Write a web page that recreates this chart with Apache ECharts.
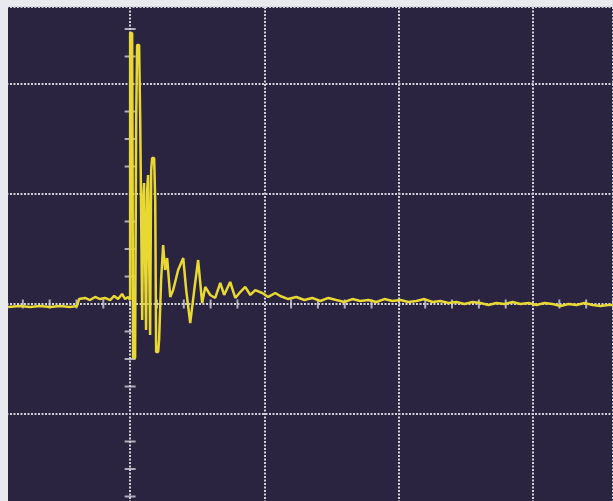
<!DOCTYPE html>
<html>
<head>
<meta charset="utf-8">
<script src="https://cdn.jsdelivr.net/npm/echarts@6/dist/echarts.min.js"></script>
<style>html,body{margin:0;padding:0;background:#e8eaee;overflow:hidden;}#c{position:absolute;left:-4px;top:0;width:617px;height:524px;}</style>
</head>
<body>
<div id="c"></div>
<script>
// time in divisions, amplitude in divisions
var timeDiv = [-0.910,-0.821,-0.746,-0.672,-0.597,-0.522,-0.448,-0.396,-0.381,-0.336,-0.299,-0.261,-0.224,-0.187,-0.149,-0.119,-0.090,-0.060,-0.037,-0.015,
0.000,0.000,0.015,0.022,0.037,0.045,0.052,0.067,0.075,0.082,0.090,0.097,0.104,0.112,0.119,0.127,0.134,0.142,0.149,0.157,0.164,0.179,0.187,0.194,0.209,0.216,0.231,
0.246,0.261,0.276,0.299,0.321,0.358,0.396,0.418,0.448,0.478,0.507,0.537,0.560,0.597,0.634,0.672,0.701,0.746,0.784,0.821,0.858,0.896,0.933,0.985,1.030,1.082,
1.119,1.179,1.239,1.299,1.358,1.418,1.478,1.537,1.597,1.657,1.716,1.776,1.836,1.896,1.955,2.015,2.075,2.134,2.194,2.254,2.313,2.373,2.433,2.493,2.552,2.612,2.672,2.731,2.791,2.851,2.910,2.970,3.030,3.090,3.149,3.209,3.269,3.328,3.388,3.448,3.507,3.567,3.604];
var ampDiv = [-0.027,-0.018,-0.027,-0.018,-0.027,-0.018,-0.027,-0.018,0.045,0.055,0.036,0.064,0.045,0.055,0.036,0.073,0.045,0.091,0.045,0.064,
0.036,2.464,2.464,-0.491,-0.491,1.673,2.355,2.355,1.691,1.691,-0.145,0.945,1.100,1.100,-0.236,1.036,1.173,1.173,-0.282,1.218,1.327,1.327,0.945,-0.436,-0.436,-0.327,0.218,
0.536,0.309,0.418,0.064,0.127,0.309,0.418,0.127,-0.173,0.127,0.400,0.009,0.155,0.082,0.055,0.191,0.082,0.200,0.055,0.109,0.155,0.082,0.127,0.100,0.064,0.100,
0.073,0.045,0.064,0.036,0.055,0.027,0.055,0.036,0.018,0.045,0.027,0.036,0.018,0.045,0.027,0.036,0.018,0.027,0.045,0.018,0.027,0.009,0.018,0.000,0.018,0.009,-0.009,0.009,0.000,0.018,0.000,0.009,-0.009,0.009,0.000,-0.018,0.000,-0.009,0.009,-0.009,-0.018,-0.009,-0.009];
var xTicks = [-1,-0.8,-0.6,-0.4,-0.2,0.2,0.4,0.6,0.8,1.2,1.4,1.6,1.8,2.2,2.4,2.6,2.8,3.2,3.4,3.6];
var yTicks = [-1.75,-1.5,-1.25,-0.75,-0.5,-0.25,0.25,0.5,0.75,1.25,1.5,1.75,2.25,2.5];

var trace = timeDiv.map(function(t,i){return [t, ampDiv[i]];});
var xt = xTicks.map(function(v){return [v,0];});
var yt = yTicks.map(function(v){return [0,v];});

var chart = echarts.init(document.getElementById('c'), null, {renderer:'canvas'});
var gridLine = {show:true, lineStyle:{color:'#cfd0d8', width:2, type:[2,1.5]}};
chart.setOption({
  backgroundColor:'#e8eaee',
  animation:false,
  grid:{left:0, right:0, top:7, bottom:0, show:true, backgroundColor:'#2a2440', borderWidth:0},
  xAxis:{type:'value', min:-1, max:3.6, interval:1, axisLine:{show:false}, axisTick:{show:false}, axisLabel:{show:false}, splitLine:gridLine},
  yAxis:{type:'value', min:-2, max:2.7, interval:1, axisLine:{show:false}, axisTick:{show:false}, axisLabel:{show:false}, splitLine:gridLine},
  graphic:[{type:'rect', shape:{x:0,y:0,width:12,height:524}, style:{fill:'#e8eaee'}, z:100}],
  series:[
    {type:'scatter', data:xt, symbol:'rect', symbolSize:[2,9], itemStyle:{color:'#cfd0d8'}, silent:true, z:2},
    {type:'scatter', data:yt, symbol:'rect', symbolSize:[11,2], itemStyle:{color:'#cfd0d8'}, silent:true, z:2},
    {type:'line', data:trace, showSymbol:false, symbol:'none', lineStyle:{color:'#e8d834', width:2.5}, z:5}
  ]
});
</script>
</body>
</html>
